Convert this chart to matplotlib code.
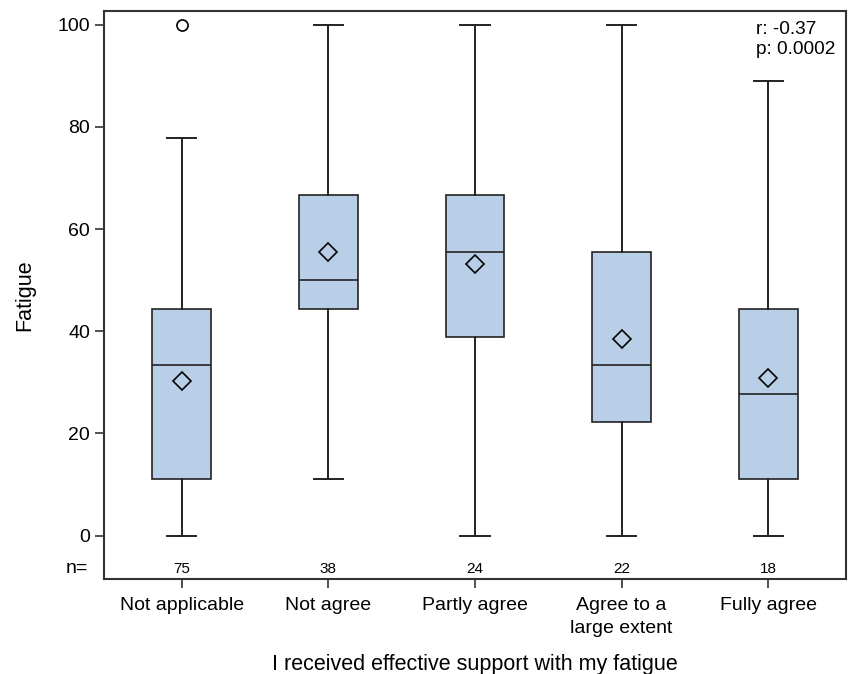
import numpy as np
import matplotlib.pyplot as plt

plt.rcParams['font.family'] = ['Liberation Sans', 'DejaVu Sans']

categories = ["Not applicable", "Not agree", "Partly agree",
              "Agree to a\nlarge extent", "Fully agree"]
q1 = [11.1, 44.4, 38.9, 22.2, 11.1]
medians = [33.3, 50.0, 55.6, 33.3, 27.8]
q3 = [44.4, 66.7, 66.7, 55.6, 44.4]
whisker_lo = [0, 11.1, 0, 0, 0]
whisker_hi = [77.8, 100, 100, 100, 88.9]
means = [30.2, 55.5, 53.2, 38.4, 30.9]
outliers = [[100], [], [], [], []]
n_counts = [75, 38, 24, 22, 18]

stats = []
for i in range(len(categories)):
    stats.append({
        "q1": q1[i], "med": medians[i], "q3": q3[i],
        "whislo": whisker_lo[i], "whishi": whisker_hi[i],
        "mean": means[i], "fliers": outliers[i], "label": categories[i],
    })

fig = plt.figure(figsize=(8.49, 6.74), dpi=100)
ax = fig.add_axes([0.1225, 0.141, 0.874, 0.8427])

pos = np.arange(len(categories))
ax.bxp(stats, positions=pos, widths=0.4, patch_artist=True, showmeans=True,
       boxprops=dict(facecolor='#b9cfe8', edgecolor='#222222', linewidth=1.2),
       medianprops=dict(color='#222222', linewidth=1.2),
       whiskerprops=dict(color='#222222', linewidth=1.4),
       capprops=dict(color='#222222', linewidth=1.4),
       capwidths=0.2,
       meanprops=dict(marker='D', markerfacecolor='none', markeredgecolor='black',
                      markersize=9, markeredgewidth=1.2),
       flierprops=dict(marker='o', markerfacecolor='none', markeredgecolor='black',
                       markersize=8, markeredgewidth=1.2))

ax.set_xlim(-0.53, 4.53)
ax.set_ylim(-8.5, 102.7)
ax.set_yticks([0, 20, 40, 60, 80, 100])
ax.set_xticks(pos)
ax.set_xticklabels(categories, fontsize=14, linespacing=1.45)
ax.tick_params(axis='both', labelsize=14, length=6.5, width=1.2, color='#333333')
ax.tick_params(axis='x', pad=6.5)

for s in ax.spines.values():
    s.set_linewidth(1.5)
    s.set_color('#333333')

for i, n in enumerate(n_counts):
    ax.text(pos[i], -6.5, str(n), ha='center', va='center', fontsize=11)
ax.text(-0.021, -6.5, "n=", transform=ax.get_yaxis_transform(),
        ha='right', va='center', fontsize=14)

ax.text(0.878, 0.982, "r: -0.37\np: 0.0002", transform=ax.transAxes,
        ha='left', va='top', fontsize=13.7, linespacing=1.25)

ax.set_ylabel("Fatigue", fontsize=15.5)
ax.set_xlabel("I received effective support with my fatigue", fontsize=15.5, labelpad=12)
ax.yaxis.set_label_coords(-0.093, 0.5)

fig.savefig("out.png", dpi=100)
